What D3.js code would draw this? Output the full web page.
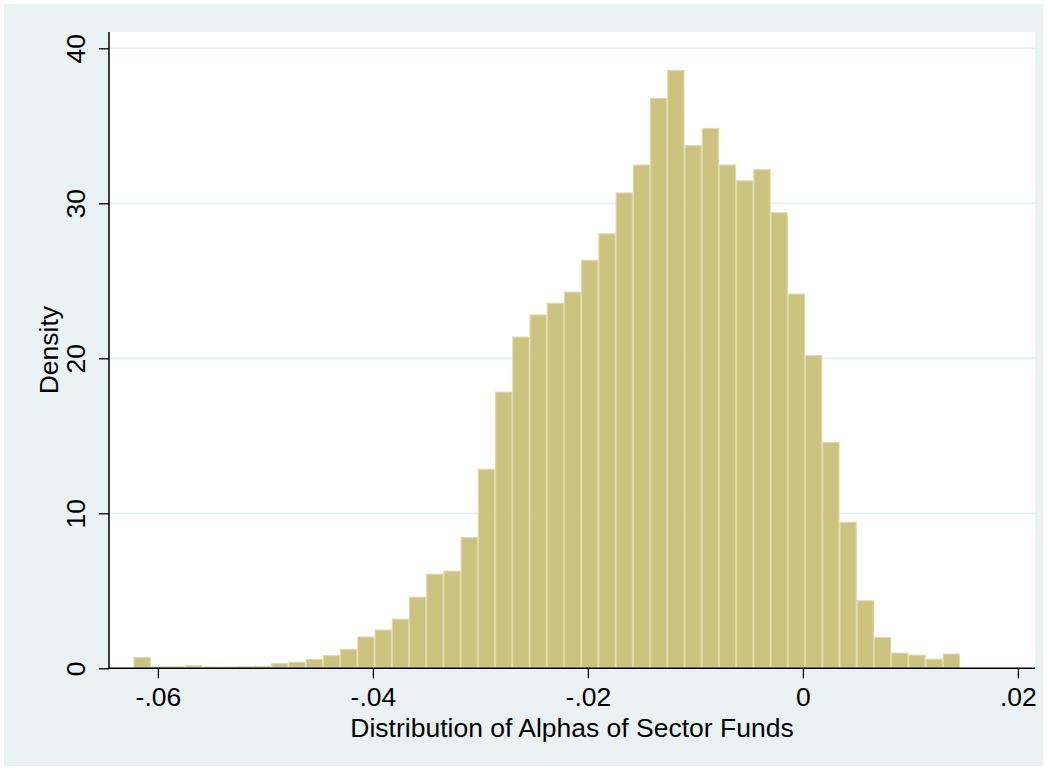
<!DOCTYPE html>
<html>
<head>
<meta charset="utf-8">
<script src="https://cdn.jsdelivr.net/npm/d3@7"></script>
<style>
  html, body { margin: 0; padding: 0; background: #ffffff; }
  svg { display: block; }
  text { font-family: "Liberation Sans", Arial, sans-serif; fill: #000; }
</style>
</head>
<body>
<svg id="chart" width="1047" height="770"></svg>
<script>
// Histogram of sector-fund alphas: 48 equal-width bins, density scale
const binStart = -0.06227;
const binWidth = 0.0016018;
const densities = [
  0.73, 0.13, 0.13, 0.19, 0.12, 0.12, 0.13, 0.16, 0.33, 0.42,
  0.60, 0.85, 1.25, 2.05, 2.50, 3.20, 4.62, 6.10, 6.30, 8.47,
  12.87, 17.85, 21.40, 22.83, 23.58, 24.30, 26.36, 28.06, 30.70, 32.50,
  36.80, 38.60, 33.76, 34.86, 32.50, 31.48, 32.20, 29.42, 24.17, 20.20,
  14.60, 9.45, 4.39, 2.02, 1.01, 0.88, 0.62, 0.95
];
const xTicks = [-0.06, -0.04, -0.02, 0, 0.02];
const yTicks = [0, 10, 20, 30, 40];
const xTitle = "Distribution of Alphas of Sector Funds";
const yTitle = "Density";

const bins = densities.map((d, i) => ({
  x0: binStart + i * binWidth,
  x1: binStart + (i + 1) * binWidth,
  density: d
}));

const W = 1047, H = 770;
const plot = { left: 109, right: 1035, top: 32, bottom: 668.3 };
const fontSize = 26.5;

const svg = d3.select("#chart");

// outer graph region
svg.append("rect").attr("x", 0).attr("y", 0).attr("width", W).attr("height", H).attr("fill", "#ffffff");
svg.append("rect").attr("x", 4).attr("y", 4).attr("width", W - 8).attr("height", H - 8).attr("fill", "#eaf2f3");
// plot region
svg.append("rect")
  .attr("x", plot.left).attr("y", plot.top)
  .attr("width", plot.right - plot.left).attr("height", plot.bottom - plot.top)
  .attr("fill", "#ffffff");

const x = d3.scaleLinear()
  .domain([(plot.left - 802.9) / 10750, (plot.right - 802.9) / 10750])
  .range([plot.left, plot.right]);
const y = d3.scaleLinear()
  .domain([0, (plot.bottom - plot.top) / 15.5])
  .range([plot.bottom, plot.top]);

// horizontal grid lines
svg.append("g")
  .selectAll("line")
  .data(yTicks.filter(t => t > 0))
  .join("line")
  .attr("x1", plot.left).attr("x2", plot.right)
  .attr("y1", d => y(d)).attr("y2", d => y(d))
  .attr("stroke", "#e6eff1").attr("stroke-width", 1.8);

// bars
svg.append("g")
  .selectAll("rect")
  .data(bins)
  .join("rect")
  .attr("x", d => x(d.x0) + 0.5)
  .attr("width", d => x(d.x1) - x(d.x0) - 1)
  .attr("y", d => y(d.density) + 0.5)
  .attr("height", d => Math.max(0, y(0) - y(d.density) - 0.5))
  .attr("fill", "#cbc37f")
  .attr("stroke", "#dfdaa3")
  .attr("stroke-width", 1.1);

// x axis
const xAxis = d3.axisBottom(x)
  .tickValues(xTicks)
  .tickSize(10)
  .tickPadding(8.6)
  .tickFormat(d => d === 0 ? "0" : d3.format(".2f")(d).replace("0.", "."));
const gx = svg.append("g")
  .attr("transform", `translate(0,${plot.bottom})`)
  .call(xAxis);
gx.select(".domain").attr("stroke", "#000").attr("stroke-width", 1.5)
  .attr("d", `M${plot.left},0H${plot.right}`);
gx.selectAll(".tick line").attr("stroke", "#000").attr("stroke-width", 1.3);
gx.selectAll(".tick text")
  .attr("font-size", fontSize)
  .attr("font-family", "Liberation Sans, Arial, sans-serif")
  .attr("fill", "#000")
  .text(function(d) { return d3.select(this).text().replace("−", "-"); });

// y axis
const yAxis = d3.axisLeft(y)
  .tickValues(yTicks)
  .tickSize(10)
  .tickFormat(d3.format("d"));
const gy = svg.append("g")
  .attr("transform", `translate(${plot.left},0)`)
  .call(yAxis);
gy.select(".domain").attr("stroke", "#000").attr("stroke-width", 1.5)
  .attr("d", `M0,${plot.top}V${plot.bottom}`);
gy.selectAll(".tick line").attr("stroke", "#000").attr("stroke-width", 1.3);
gy.selectAll(".tick text")
  .attr("font-size", fontSize)
  .attr("font-family", "Liberation Sans, Arial, sans-serif")
  .attr("fill", "#000")
  .attr("x", null).attr("dy", null)
  .attr("text-anchor", "middle")
  .attr("transform", "translate(-24,0) rotate(-90)")
  .attr("y", 0);

// axis titles
svg.append("text")
  .attr("x", (plot.left + plot.right) / 2)
  .attr("y", 736.5)
  .attr("text-anchor", "middle")
  .attr("font-size", fontSize)
  .text(xTitle);

svg.append("text")
  .attr("transform", `translate(57.5,${(plot.top + plot.bottom) / 2}) rotate(-90)`)
  .attr("text-anchor", "middle")
  .attr("font-size", fontSize)
  .text(yTitle);
</script>
</body>
</html>
